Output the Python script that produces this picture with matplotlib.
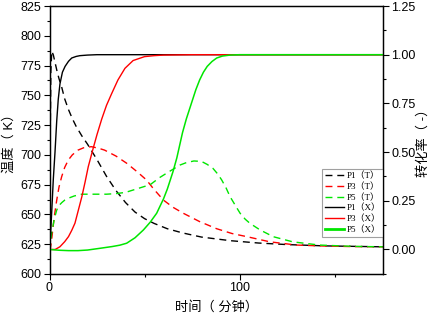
import matplotlib
matplotlib.use("Agg")
import matplotlib.pyplot as plt
from matplotlib.ticker import MultipleLocator, FixedLocator

plt.rcParams['font.family'] = ['Liberation Sans', 'Noto Sans CJK SC']

# Temperature curves (K), dashed, left axis
t_p1T = [0, 0.3, 0.7, 1.2, 2, 3, 4, 5, 6.4, 8, 10, 12, 14, 17, 20, 25, 30, 35, 40, 45, 50, 55, 62, 70, 80, 95, 110, 125, 145, 176]
p1T = [620, 700, 770, 787, 784, 777, 770, 764, 757, 747, 738, 730.5, 724, 716, 709, 696, 682, 670, 660, 652, 646.5, 642.5, 638, 634.5, 631, 628, 626, 624.7, 623.6, 622.8]

t_p3T = [0, 0.5, 1.1, 2.5, 3.8, 5, 6.4, 8, 9.9, 12, 15, 18, 22, 26, 29, 35, 40.6, 46, 51, 55, 60, 65, 70.4, 79, 88, 96, 104, 116, 130, 144, 160, 176]
p3T = [620, 622, 628.5, 648, 662, 673, 681.7, 689.5, 695.7, 700, 704, 706, 706.9, 705.5, 704, 699, 693, 686, 679, 671, 662, 656, 651, 644, 638, 634, 631.3, 627, 624.3, 623.5, 623, 622.8]

t_p5T = [0, 0.5, 1.1, 2.5, 3.8, 5, 6.5, 8, 9.9, 13, 17, 25, 30, 35, 40, 47, 53, 58, 63, 68.7, 72, 76, 80, 83, 86, 88.5, 90.6, 93, 95, 98, 100.3, 103, 105.5, 110.8, 117.8, 128, 142, 160, 176]
p5T = [620, 626, 634, 646, 653.7, 657.5, 660, 662, 663.6, 665.5, 667, 667, 667, 667.5, 668.5, 672, 675, 681, 686, 691.5, 693.5, 694.9, 694.5, 692, 688.7, 684, 679, 672, 665, 657, 651, 646, 642.5, 637, 631.3, 627, 624.3, 623.2, 622.8]

# Conversion curves (-), solid, right axis
t_p1X = [0, 0.4, 1.2, 2.0, 2.9, 3.8, 4.6, 5.5, 6.8, 8.2, 10, 11.7, 14, 16, 20, 25, 60, 176]
p1X = [0, 0.05, 0.2, 0.36, 0.5, 0.66, 0.77, 0.85, 0.91, 0.94, 0.966, 0.983, 0.991, 0.995, 0.998, 1.0, 1.0, 1.0]

t_p3X = [0, 3, 5.5, 8, 10, 11.7, 13.4, 15, 17, 18.7, 20.4, 23, 25, 27.5, 30, 32.7, 36, 39.7, 44, 50, 55, 60, 75, 176]
p3X = [0, 0.0, 0.014, 0.04, 0.066, 0.098, 0.135, 0.195, 0.27, 0.345, 0.425, 0.52, 0.59, 0.67, 0.74, 0.80, 0.87, 0.93, 0.97, 0.99, 0.995, 0.998, 1.0, 1.0]

t_p5X = [0, 5, 10, 15, 20, 26.6, 33, 37, 40.6, 45, 49.4, 53, 56.4, 60, 62, 65, 67, 70, 72, 75, 77, 79, 81, 83, 85.5, 88, 91, 95, 100, 176]
p5X = [0, -0.004, -0.006, -0.006, -0.003, 0.006, 0.015, 0.022, 0.032, 0.06, 0.10, 0.14, 0.186, 0.26, 0.31, 0.40, 0.47, 0.60, 0.67, 0.76, 0.82, 0.87, 0.91, 0.94, 0.965, 0.983, 0.993, 0.998, 1.0, 1.0]

labels_T = ['P1（T）', 'P3（T）', 'P5（T）']
labels_X = ['P1（X）', 'P3（X）', 'P5（X）']
colors = ['black', '#ff0000', '#00e600']

fig = plt.figure(figsize=(4.33, 3.17), dpi=100)
ax = fig.add_axes([49.5/433, 43/317, 333.5/433, 268/317])
ax2 = ax.twinx()

dash = (0, (5, 3.5))
h = []
for tt, yy, c, lab in zip([t_p1T, t_p3T, t_p5T], [p1T, p3T, p5T], colors, labels_T):
    l, = ax.plot(tt, yy, color=c, lw=1.0, linestyle=dash, label=lab)
    h.append(l)
for tt, yy, c, lab, lw in zip([t_p1X, t_p3X, t_p5X], [p1X, p3X, p5X], colors, labels_X, [1.0, 1.0, 1.1]):
    l, = ax2.plot(tt, yy, color=c, lw=lw, linestyle='-', label=lab)
    h.append(l)

ax.set_xlim(0, 175.5)
ax.set_ylim(600, 825)
ax2.set_ylim(-0.126, 1.25)

ax.xaxis.set_major_locator(FixedLocator([0, 100]))
ax.xaxis.set_minor_locator(FixedLocator([50, 150]))
ax.yaxis.set_major_locator(MultipleLocator(25))
ax.yaxis.set_minor_locator(MultipleLocator(12.5))
ax2.yaxis.set_major_locator(FixedLocator([0, 0.25, 0.5, 0.75, 1.0, 1.25]))
ax2.yaxis.set_minor_locator(FixedLocator([-0.125, 0.125, 0.375, 0.625, 0.875, 1.125]))
ax2.set_yticklabels(['0.00', '0.25', '0.50', '0.75', '1.00', '1.25'])

for a in (ax, ax2):
    a.tick_params(which='major', direction='out', length=4, width=0.8, labelsize=9, pad=2)
    a.tick_params(which='minor', direction='out', length=2.5, width=0.8)
    for s in a.spines.values():
        s.set_linewidth(0.9)

ax.set_xlabel('时间（ 分钟）', fontsize=9.5, labelpad=5)
ax.set_ylabel('温度（ K）', fontsize=9.5, labelpad=3)
ax2.set_ylabel('转化率（ -）', fontsize=9.5, labelpad=1, rotation=90)

leg = ax.legend(handles=h, loc='lower right', bbox_to_anchor=(1.0, 0.138), borderaxespad=0,
                prop={'family': ['Liberation Serif', 'Noto Sans CJK SC'], 'size': 6.5},
                frameon=True, fancybox=False, edgecolor='#a0a0a0', framealpha=1,
                handlelength=2.2, handletextpad=0.2, labelspacing=0.25, borderpad=0.3)
leg.get_frame().set_linewidth(0.8)
leg.legend_handles[5].set_linewidth(2.0)

fig.savefig('out.png', dpi=100)
